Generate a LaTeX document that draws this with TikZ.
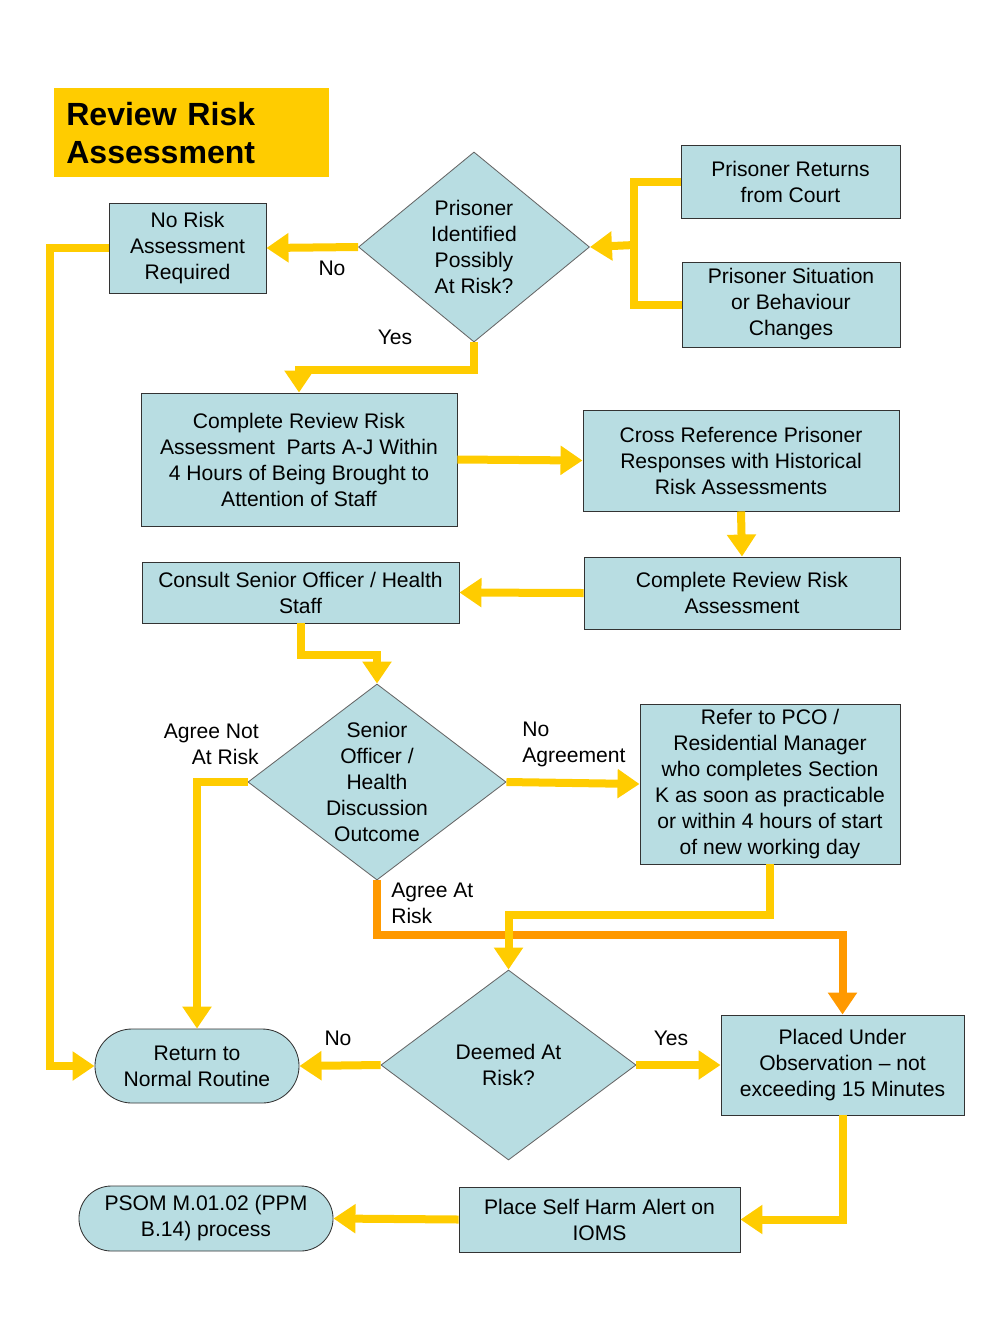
\documentclass[tikz,border=0pt]{standalone}
\usepackage{fontspec}
\setmainfont{Liberation Sans}
\usetikzlibrary{arrows.meta,shapes.geometric,shapes.misc}
\definecolor{boxblue}{HTML}{B8DDE2}
\definecolor{flowyellow}{HTML}{FFCC00}
\definecolor{floworange}{HTML}{FF9900}
\begin{document}
\begin{tikzpicture}[x=0.025cm, y=-0.025cm,
    every node/.style={font=\fontsize{15}{18.5}\selectfont, align=center, inner sep=0pt},
    stepbox/.style={rectangle, draw=black!80, line width=0.6pt, fill=boxblue},
    endbox/.style={rounded rectangle, draw=black!80, line width=0.6pt, fill=boxblue},
    choice/.style={diamond, draw=black!60, line width=0.6pt, fill=boxblue},
    flow/.style={draw=flowyellow, line width=0.2cm},
    arrow/.style={flow, -{Triangle[length=0.55cm, width=0.7cm]}},
    hot/.style={arrow, draw=floworange}]
    \useasboundingbox (0,0) rectangle (1008,1344);

    % title
    \node[fill=flowyellow, anchor=north west, minimum width=6.875cm, minimum height=2.225cm,
          text width=6.275cm, align=left, inner xsep=0.3cm,
          font=\bfseries\fontsize{22.8}{27}\selectfont] (title) at (54,88) {Review Risk\\Assessment};

    % boxes
    \node[stepbox, minimum width=3.925cm, minimum height=2.25cm] (norisk) at (187.5,248) {No Risk\\Assessment\\Required};
    \node[choice, minimum width=5.775cm, minimum height=4.75cm] (d1) at (474,247) {};
    \node (d1text) at (d1.center) {Prisoner\\Identified\\Possibly\\At Risk?};
    \node[stepbox, minimum width=5.475cm, minimum height=1.825cm] (court) at (790.5,181.5) {Prisoner Returns\\from Court};
    \node[stepbox, minimum width=5.45cm, minimum height=2.125cm] (situ) at (791,304.5) {Prisoner Situation\\or Behaviour\\Changes};
    \node[stepbox, minimum width=7.9cm, minimum height=3.325cm] (complete) at (299,459.5) {Complete Review Risk\\Assessment\ \ Parts A-J Within\\4 Hours of Being Brought to\\Attention of Staff};
    \node[stepbox, minimum width=7.9cm, minimum height=2.525cm] (cross) at (741,460.5) {Cross Reference Prisoner\\Responses with Historical\\Risk Assessments};
    \node[stepbox, minimum width=7.9cm, minimum height=1.8cm] (review) at (742,593) {Complete Review Risk\\Assessment};
    \node[stepbox, minimum width=7.925cm, minimum height=1.525cm] (consult) at (300.5,592.5) {Consult Senior Officer / Health\\Staff};
    \node[choice, minimum width=6.45cm, minimum height=4.9cm] (d2) at (377,782) {};
    \node (d2text) at (d2.center) {Senior\\Officer /\\Health\\Discussion\\Outcome};
    \node[stepbox, minimum width=6.5cm, minimum height=4cm] (refer) at (770,784) {Refer to PCO /\\Residential Manager\\who completes Section\\K as soon as practicable\\or within 4 hours of start\\of new working day};
    \node[choice, minimum width=6.375cm, minimum height=4.75cm] (d3) at (508.5,1065) {};
    \node (d3text) at (d3.center) {Deemed At\\Risk?};
    \node[endbox, minimum width=5.1cm, minimum height=1.85cm] (routine) at (197,1066) {Return to\\Normal Routine};
    \node[stepbox, minimum width=6.075cm, minimum height=2.5cm] (observe) at (842.5,1065) {Placed Under\\Observation -- not\\exceeding 15 Minutes};
    \node[stepbox, minimum width=7.025cm, minimum height=1.625cm] (alert) at (599.5,1219.5) {Place Self Harm Alert on\\IOMS};
    \node[endbox, minimum width=6.35cm, minimum height=1.625cm] (psom) at (206,1218.5) {PSOM M.01.02 (PPM\\B.14) process};

    % labels
    \node (lno1) at (332,268) {No};
    \node (lyes1) at (395,337) {Yes};
    \node[anchor=east, align=right] (lnotrisk) at (259,744) {Agree Not\\At Risk};
    \node[anchor=west, align=left] (lnoagree) at (522,744) {No\\Agreement};
    \node[anchor=west, align=left] (latrisk) at (391,903) {Agree At\\Risk};
    \node (lno2) at (338,1038) {No};
    \node (lyes2) at (671,1038) {Yes};

    % connectors
    \coordinate (fork) at (634,245);
    \draw[flow] (court.west) -| (fork) |- (situ.west);
    \draw[arrow] (fork) -- (d1.east);
    \draw[arrow] (d1.west) -- (norisk.east);
    \draw[arrow] (norisk.west) -- ++(-59,0) |- (routine.west);
    \draw[arrow] (d1.south) -- ++(0,28) -| (complete.north);
    \draw[arrow] (complete.east) -- (cross.west);
    \draw[arrow] (cross.south) -- (review.north);
    \draw[arrow] (review.west) -- (consult.east);
    \draw[arrow] (consult.south) -- ++(0,32) -| (d2.north);
    \draw[arrow] (d2.west) -| (routine.north);
    \draw[arrow] (d2.east) -- (refer.west);
    \draw[hot] (d2.south) -- ++(0,55) -| (observe.north);
    \draw[arrow] (refer.south) -- ++(0,51) -| (d3.north);
    \draw[arrow] (d3.west) -- (routine.east);
    \draw[arrow] (d3.east) -- (observe.west);
    \draw[arrow] (observe.south) |- (alert.east);
    \draw[arrow] (alert.west) -- (psom.east);
\end{tikzpicture}
\end{document}
